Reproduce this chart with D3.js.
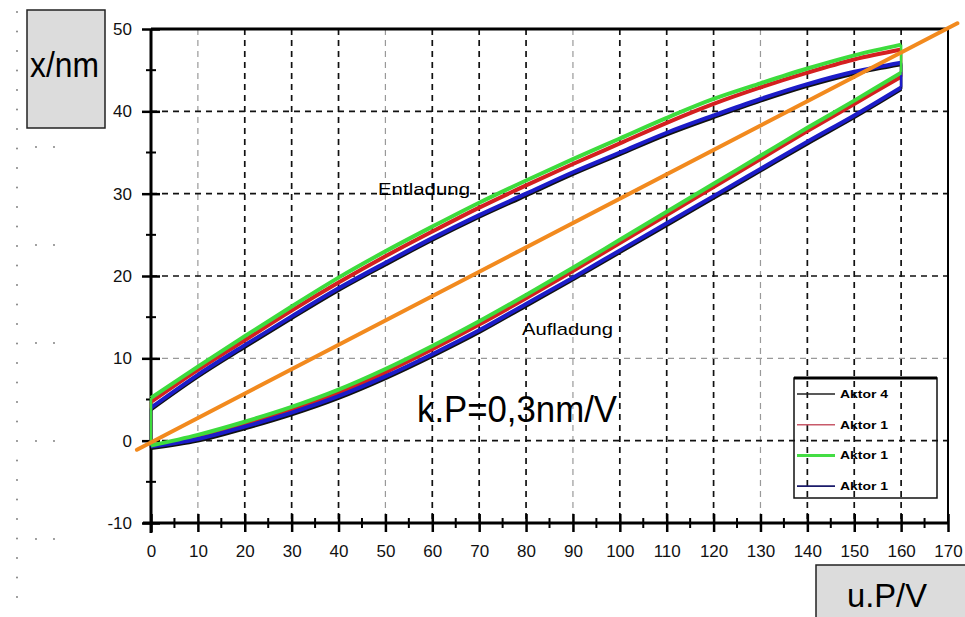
<!DOCTYPE html>
<html lang="de">
<head>
<meta charset="utf-8" />
<title>Hysterese Piezo-Aktor</title>
<script src="https://d3js.org/d3.v7.min.js"></script>
<style>
  body { margin: 0; background: #fff; }
  text { font-family: "Liberation Sans", Arial, sans-serif; }
  .grid line { stroke: #111; stroke-width: 1.7; stroke-dasharray: 6,5; }
  .grid line.light { stroke: #999; stroke-width: 1.2; }
</style>
</head>
<body>
<script>
// ---- data ----
var uValues = [0, 10, 20, 30, 40, 50, 60, 70, 80, 90, 100, 110, 120, 130, 140, 150, 160];

// Entladung (upper branch), Aufladung (lower branch), x in nm
var blackUp  = [3.8, 7.8, 11.4, 14.9, 18.3, 21.4, 24.4, 27.2, 29.8, 32.4, 34.8, 37.2, 39.3, 41.3, 43.1, 44.6, 45.7];
var blackLow = [-0.9, 0.0, 1.5, 3.2, 5.2, 7.6, 10.3, 13.2, 16.4, 19.6, 22.9, 26.2, 29.5, 32.8, 36.1, 39.3, 42.7];
var redUp    = [4.7, 8.6, 12.2, 15.8, 19.2, 22.4, 25.4, 28.3, 31.0, 33.6, 36.1, 38.6, 40.9, 42.9, 44.7, 46.3, 47.5];
var redLow   = [-0.6, 0.4, 1.9, 3.7, 5.8, 8.3, 11.1, 14.1, 17.3, 20.6, 24.0, 27.4, 30.8, 34.2, 37.6, 40.9, 44.2];
var greenUp  = [5.2, 9.0, 12.7, 16.3, 19.8, 23.0, 26.0, 28.9, 31.6, 34.2, 36.7, 39.2, 41.5, 43.4, 45.2, 46.8, 48.1];
var greenLow = [-0.6, 0.7, 2.3, 4.1, 6.2, 8.7, 11.5, 14.5, 17.7, 21.0, 24.4, 27.8, 31.2, 34.6, 38.0, 41.3, 44.7];
var blueUp   = [4.0, 8.0, 11.6, 15.1, 18.5, 21.6, 24.6, 27.4, 30.0, 32.6, 35.0, 37.4, 39.5, 41.5, 43.3, 44.8, 45.9];
var blueLow  = [-0.7, 0.2, 1.7, 3.4, 5.4, 7.8, 10.5, 13.4, 16.6, 19.8, 23.1, 26.4, 29.7, 33.0, 36.3, 39.5, 42.9];

var seriesNames = ["Aktor 4", "Aktor 1", "Aktor 1", "Aktor 1"];

// k.P reference line (0,3 nm/V)
var refU = [-3, 172];
var refX = [-1.1, 50.7];

var xTickValues = [0, 10, 20, 30, 40, 50, 60, 70, 80, 90, 100, 110, 120, 130, 140, 150, 160, 170];
var yTickValues = [-10, 0, 10, 20, 30, 40, 50];

// ---- layout ----
var width = 965, height = 617;
var svg = d3.select("body").append("svg")
    .attr("width", width).attr("height", height);

var x = d3.scaleLinear().domain([0, 170]).range([151, 948]);
var y = d3.scaleLinear().domain([-10, 50]).range([523, 29]);

// dotted page margin on the left
var dots = svg.append("g").attr("fill", "#777");
d3.range(12, 610, 19.5).forEach(function (py) {
    dots.append("circle").attr("cx", 17).attr("cy", py).attr("r", 0.9);
});
[147, 245, 343, 441, 539].forEach(function (py) {
    dots.append("circle").attr("cx", 36).attr("cy", py).attr("r", 0.9);
    dots.append("circle").attr("cx", 54).attr("cy", py).attr("r", 0.9);
});

// grid
var lightX = [10, 50, 90, 130], lightY = [10];
var grid = svg.append("g").attr("class", "grid");
grid.selectAll("line.v").data(xTickValues.filter(function (d) { return d > 0 && d < 170; }))
    .enter().append("line")
    .attr("class", function (d) { return lightX.indexOf(d) >= 0 ? "v light" : "v"; })
    .attr("x1", function (d) { return x(d); }).attr("x2", function (d) { return x(d); })
    .attr("y1", y(50)).attr("y2", y(-10));
grid.selectAll("line.h").data(yTickValues.filter(function (d) { return d > -10 && d < 50; }))
    .enter().append("line")
    .attr("class", function (d) { return lightY.indexOf(d) >= 0 ? "h light" : "h"; })
    .attr("x1", x(0)).attr("x2", x(170))
    .attr("y1", function (d) { return y(d); }).attr("y2", function (d) { return y(d); });

// frame
svg.append("line").attr("x1", x(0)).attr("x2", x(170)).attr("y1", y(50)).attr("y2", y(50))
    .attr("stroke", "#000").attr("stroke-width", 3);
svg.append("line").attr("x1", x(170)).attr("x2", x(170)).attr("y1", y(50)).attr("y2", y(-10))
    .attr("stroke", "#000").attr("stroke-width", 2);

// x axis
var xAxis = svg.append("g")
    .attr("transform", "translate(0," + y(-10) + ")")
    .call(d3.axisBottom(x).tickValues(xTickValues).tickFormat(String).tickSize(0).tickPadding(22));
xAxis.select(".domain").attr("stroke-width", 3).attr("d", "M" + (x(0) - 8) + ",0H" + x(170));
xAxis.selectAll("text").attr("font-size", 17).attr("fill", "#111")
    .attr("font-family", "Liberation Sans, Arial, sans-serif");
xAxis.selectAll(".tick").append("line")
    .attr("y1", -9).attr("y2", 9).attr("stroke", "#000").attr("stroke-width", 2.5);
xAxis.selectAll("line.minor").data(xTickValues.slice(0, -1).map(function (d) { return d + 5; }))
    .enter().append("line").attr("class", "minor")
    .attr("x1", function (d) { return x(d); }).attr("x2", function (d) { return x(d); })
    .attr("y1", -5).attr("y2", 5).attr("stroke", "#000").attr("stroke-width", 2);

// y axis
var yAxis = svg.append("g")
    .attr("transform", "translate(" + x(0) + ",0)")
    .call(d3.axisLeft(y).tickValues(yTickValues).tickFormat(String).tickSize(0).tickPadding(19));
yAxis.select(".domain").attr("stroke-width", 3).attr("d", "M0," + y(50) + "V" + (y(-10) + 10));
yAxis.selectAll("text").attr("font-size", 17).attr("fill", "#111")
    .attr("font-family", "Liberation Sans, Arial, sans-serif");
yAxis.selectAll(".tick").append("line")
    .attr("x1", -9).attr("x2", 9).attr("stroke", "#000").attr("stroke-width", 2.5);
yAxis.selectAll("line.minor").data(yTickValues.slice(0, -1).map(function (d) { return d + 5; }))
    .enter().append("line").attr("class", "minor")
    .attr("y1", function (d) { return y(d); }).attr("y2", function (d) { return y(d); })
    .attr("x1", -5).attr("x2", 5).attr("stroke", "#000").attr("stroke-width", 2);

// hysteresis loops
var series = [
    { up: blackUp, low: blackLow, color: "#111111" },
    { up: redUp, low: redLow, color: "#d42020" },
    { up: blueUp, low: blueLow, color: "#1c1cc8" },
    { up: greenUp, low: greenLow, color: "#3ddc3d" }
];
var line = d3.line()
    .x(function (d) { return x(d[0]); })
    .y(function (d) { return y(d[1]); })
    .curve(d3.curveCatmullRom.alpha(0.5));
var loops = svg.append("g").attr("fill", "none").attr("stroke-width", 4)
    .attr("stroke-linejoin", "round");
series.forEach(function (s) {
    var low = uValues.map(function (u, i) { return [u, s.low[i]]; });
    var up = uValues.map(function (u, i) { return [u, s.up[i]]; });
    loops.append("path").attr("d", line(low)).attr("stroke", s.color);
    loops.append("path").attr("d", line(up)).attr("stroke", s.color);
    var last = uValues.length - 1;
    loops.append("line")
        .attr("x1", x(uValues[last])).attr("x2", x(uValues[last]))
        .attr("y1", y(s.low[last])).attr("y2", y(s.up[last]))
        .attr("stroke", s.color).attr("stroke-width", 2.5);
    loops.append("line")
        .attr("x1", x(uValues[0])).attr("x2", x(uValues[0]))
        .attr("y1", y(s.low[0])).attr("y2", y(s.up[0]))
        .attr("stroke", s.color).attr("stroke-width", 2.5);
});

// reference line
svg.append("line")
    .attr("x1", x(refU[0])).attr("y1", y(refX[0]))
    .attr("x2", x(refU[1])).attr("y2", y(refX[1]))
    .attr("stroke", "#f28a1e").attr("stroke-width", 4).attr("stroke-linecap", "round");

// annotations
svg.append("text").attr("x", 378).attr("y", 195).attr("font-size", 17)
    .attr("textLength", 92).attr("lengthAdjust", "spacingAndGlyphs").text("Entladung");
svg.append("text").attr("x", 522).attr("y", 335).attr("font-size", 17)
    .attr("textLength", 91).attr("lengthAdjust", "spacingAndGlyphs").text("Aufladung");
svg.append("text").attr("x", 417).attr("y", 422).attr("font-size", 36)
    .attr("textLength", 200).attr("lengthAdjust", "spacingAndGlyphs").text("k.P=0,3nm/V");

// legend
var lg = svg.append("g");
lg.append("rect").attr("x", 794).attr("y", 378).attr("width", 143).attr("height", 120)
    .attr("fill", "none").attr("stroke", "#111").attr("stroke-width", 1.5);
lg.append("line").attr("x1", 794).attr("x2", 937).attr("y1", 378).attr("y2", 378)
    .attr("stroke", "#000").attr("stroke-width", 3);
var legendColors = ["#222222", "#c85a6a", "#44dd44", "#1a1a6a"];
seriesNames.forEach(function (name, i) {
    var ly = 394 + i * 30.7;
    lg.append("line").attr("x1", 797).attr("x2", 835).attr("y1", ly).attr("y2", ly)
        .attr("stroke", legendColors[i]).attr("stroke-width", i === 2 ? 3 : 1.6);
    lg.append("text").attr("x", 840).attr("y", ly + 4).attr("font-size", 11)
        .attr("font-weight", "bold")
        .attr("textLength", 48).attr("lengthAdjust", "spacingAndGlyphs").text(name);
});

// axis title boxes
svg.append("rect").attr("x", 27).attr("y", 10).attr("width", 78).attr("height", 118)
    .attr("fill", "#dcdcdc").attr("stroke", "#222").attr("stroke-width", 1.5);
svg.append("text").attr("x", 30).attr("y", 77).attr("font-size", 35)
    .attr("textLength", 69).attr("lengthAdjust", "spacingAndGlyphs").text("x/nm");
svg.append("rect").attr("x", 816).attr("y", 565).attr("width", 160).attr("height", 60)
    .attr("fill", "#dcdcdc").attr("stroke", "#222").attr("stroke-width", 1.5);
svg.append("text").attr("x", 847).attr("y", 607).attr("font-size", 33)
    .attr("textLength", 80).attr("lengthAdjust", "spacingAndGlyphs").text("u.P/V");
</script>
</body>
</html>
